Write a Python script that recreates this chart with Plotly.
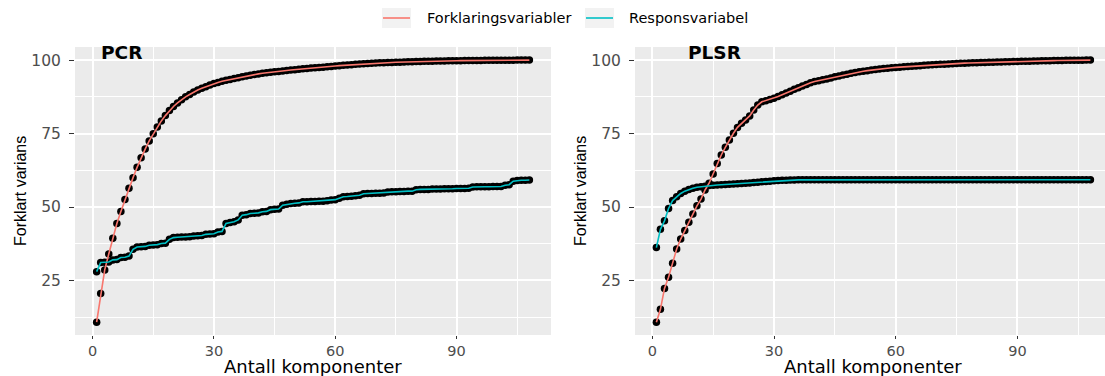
import plotly.graph_objects as go

# Antall komponenter (1..108)
components = list(range(1, 109))

# PCR: kumulativ forklart varians (%)
pcr_forklaring = [
    10.8, 20.6, 28.6, 34.0, 39.4, 44.4, 48.5, 52.6, 56.4, 60.0,
    63.5, 66.8, 69.7, 72.5, 74.9, 77.2, 79.3, 81.1, 82.8, 84.2,
    85.4, 86.5, 87.5, 88.3, 89.1, 89.8, 90.4, 90.95, 91.5, 92.0,
    92.4, 92.8, 93.1, 93.4, 93.7, 94.0, 94.3, 94.6, 94.85, 95.1,
    95.3, 95.5, 95.7, 95.85, 96.0, 96.15, 96.3, 96.45, 96.6, 96.75,
    96.9, 97.05, 97.15, 97.3, 97.4, 97.5, 97.6, 97.7, 97.85, 98.0,
    98.1, 98.2, 98.3, 98.45, 98.55, 98.65, 98.75, 98.85, 98.9, 99.0,
    99.05, 99.1, 99.15, 99.2, 99.25, 99.3, 99.35, 99.4, 99.45, 99.5,
    99.53, 99.56, 99.6, 99.63, 99.66, 99.69, 99.72, 99.74, 99.76, 99.78,
    99.8, 99.82, 99.84, 99.86, 99.88, 99.89, 99.9, 99.92, 99.93, 99.94,
    99.95, 99.96, 99.97, 99.98, 99.99, 99.99, 100.0, 100.0,
]
pcr_respons = [
    28.0, 31.1, 31.2, 31.3, 32.0, 32.1, 32.8, 32.9, 33.3, 35.6,
    36.4, 36.5, 36.6, 37.0, 37.1, 37.2, 37.6, 37.7, 39.0, 39.6,
    39.7, 39.8, 39.8, 39.9, 40.1, 40.2, 40.3, 40.7, 40.8, 40.9,
    41.5, 41.7, 44.4, 44.7, 45.0, 45.6, 47.2, 47.4, 47.8, 47.9,
    48.0, 48.4, 48.5, 49.1, 49.2, 49.3, 50.6, 50.9, 51.2, 51.3,
    51.4, 51.8, 51.8, 51.9, 51.9, 52.0, 52.0, 52.1, 52.4, 52.5,
    53.0, 53.5, 53.6, 53.7, 53.8, 54.0, 54.5, 54.6, 54.6, 54.7,
    54.7, 54.8, 55.1, 55.2, 55.2, 55.3, 55.3, 55.4, 55.4, 55.9,
    56.0, 56.0, 56.0, 56.1, 56.1, 56.1, 56.2, 56.2, 56.2, 56.3,
    56.3, 56.3, 56.4, 56.8, 56.9, 56.9, 56.9, 56.9, 57.0, 57.0,
    57.0, 57.4, 57.6, 58.8, 59.0, 59.1, 59.1, 59.2,
]

# PLSR: kumulativ forklart varians (%)
plsr_forklaring = [
    10.8, 15.2, 22.3, 26.1, 30.9, 35.7, 39.1, 42.0, 44.8, 47.6,
    50.4, 52.7, 55.8, 58.1, 61.2, 64.8, 67.7, 70.3, 72.8, 75.1,
    77.1, 78.5, 79.6, 81.0, 83.0, 84.7, 85.8, 86.2, 86.6, 87.0,
    87.6, 88.2, 88.8, 89.4, 90.1, 90.6, 91.2, 91.7, 92.3, 92.7,
    93.0, 93.3, 93.6, 93.9, 94.3, 94.6, 94.9, 95.2, 95.5, 95.8,
    96.0, 96.2, 96.4, 96.6, 96.8, 96.95, 97.1, 97.25, 97.4, 97.5,
    97.6, 97.7, 97.8, 97.9, 98.0, 98.1, 98.2, 98.3, 98.38, 98.46,
    98.54, 98.62, 98.7, 98.78, 98.85, 98.9, 98.95, 99.0, 99.05, 99.1,
    99.15, 99.2, 99.25, 99.3, 99.34, 99.38, 99.42, 99.46, 99.5, 99.54,
    99.57, 99.6, 99.64, 99.67, 99.7, 99.73, 99.76, 99.79, 99.82, 99.85,
    99.87, 99.9, 99.92, 99.94, 99.96, 99.98, 99.99, 100.0,
]
plsr_respons = [
    36.2, 42.4, 45.3, 49.5, 52.2, 53.5, 54.6, 55.4, 56.0, 56.4,
    56.7, 56.9, 57.1, 57.3, 57.4, 57.5, 57.6, 57.7, 57.75, 57.8,
    57.9, 58.0, 58.1, 58.2, 58.3, 58.45, 58.6, 58.7, 58.8, 58.9,
    59.0, 59.1, 59.15, 59.2, 59.2, 59.25, 59.25, 59.25, 59.3, 59.3,
    59.3, 59.3, 59.3, 59.3, 59.3, 59.3, 59.3, 59.3, 59.3, 59.3,
    59.3, 59.3, 59.3, 59.3, 59.3, 59.3, 59.3, 59.3, 59.3, 59.3,
    59.3, 59.3, 59.3, 59.3, 59.3, 59.3, 59.3, 59.3, 59.3, 59.3,
    59.3, 59.3, 59.3, 59.3, 59.3, 59.3, 59.3, 59.3, 59.3, 59.3,
    59.3, 59.3, 59.3, 59.3, 59.3, 59.3, 59.3, 59.3, 59.3, 59.3,
    59.3, 59.3, 59.3, 59.3, 59.3, 59.3, 59.3, 59.3, 59.3, 59.3,
    59.3, 59.3, 59.3, 59.3, 59.3, 59.3, 59.3, 59.3,
]

x_ticks = [0, 30, 60, 90]
x_minor = [15, 45, 75, 105]
y_ticks = [25, 50, 75, 100]
y_minor = [12.5, 37.5, 62.5, 87.5]

series_names = ["Forklaringsvariabler", "Responsvariabel"]
series_colors = ["#F8766D", "#00BFC4"]
panel_titles = ["PCR", "PLSR"]
x_title = "Antall komponenter"
y_title = "Forklart varians"

W, H = 1105, 376
Y_TICK_FONT = dict(family="DejaVu Sans", size=15.5, color="#4D4D4D")
X_TICK_FONT = dict(family="DejaVu Sans", size=14.5, color="#4D4D4D")

fig = go.Figure()

panels = [
    ("x", "y", pcr_forklaring, pcr_respons),
    ("x2", "y2", plsr_forklaring, plsr_respons),
]
for xa, ya, forkl, resp in panels:
    for values in (forkl, resp):
        fig.add_trace(go.Scatter(
            x=components, y=values, mode="markers", xaxis=xa, yaxis=ya,
            marker=dict(color="black", size=7.5, line=dict(width=0)),
            showlegend=False, hoverinfo="skip",
        ))
    for values, name, color in zip((forkl, resp), series_names, series_colors):
        fig.add_trace(go.Scatter(
            x=components, y=values, mode="lines", xaxis=xa, yaxis=ya,
            line=dict(color=color, width=1.6), name=name, showlegend=False,
        ))


def x_axis(domain, rng):
    return dict(
        domain=domain, range=rng, tickmode="array", tickvals=x_ticks,
        showgrid=True, gridcolor="white", gridwidth=1.6,
        zeroline=False, showline=False,
        ticks="outside", ticklen=3, tickwidth=1.2, tickcolor="#333333",
        tickfont=X_TICK_FONT,
        minor=dict(tickvals=x_minor, showgrid=True, gridcolor="white",
                   gridwidth=0.9, ticks=""),
        fixedrange=True,
    )


def y_axis(domain, anchor):
    return dict(
        domain=domain, range=[6.45, 104.45], anchor=anchor,
        tickmode="array", tickvals=y_ticks,
        showgrid=True, gridcolor="white", gridwidth=1.6,
        zeroline=False, showline=False,
        ticks="outside", ticklen=5, tickwidth=1.2, tickcolor="#333333",
        tickfont=Y_TICK_FONT, ticklabelstandoff=5,
        minor=dict(tickvals=y_minor, showgrid=True, gridcolor="white",
                   gridwidth=0.9, ticks=""),
        fixedrange=True,
    )


y_dom = [41 / H, 329 / H]
fig.update_layout(
    width=W, height=H,
    margin=dict(l=0, r=0, t=0, b=0),
    paper_bgcolor="white", plot_bgcolor="#EBEBEB",
    showlegend=False,
    xaxis=dict(**x_axis([75 / W, 551 / W], [-4.35, 113.35]), anchor="y"),
    yaxis=y_axis(y_dom, "x"),
    xaxis2=dict(**x_axis([635 / W, 1.0], [-4.27, 111.6]), anchor="y2"),
    yaxis2=y_axis(y_dom, "x2"),
)

annotations = []
shapes = []

# Panel titles, axis titles
for title, tx, xc, yx in zip(panel_titles, [99, 686], [313, 873], [20, 580]):
    annotations.append(dict(
        text=f"<b>{title}</b>", x=tx / W, y=1 - 52.5 / H, xref="paper",
        yref="paper", xanchor="left", yanchor="middle", showarrow=False,
        font=dict(family="DejaVu Sans", size=18.5, color="black"),
    ))
    annotations.append(dict(
        text=x_title, x=xc / W, y=1 - 366 / H, xref="paper", yref="paper",
        xanchor="center", yanchor="middle", showarrow=False,
        font=dict(family="DejaVu Sans", size=18, color="black"),
    ))
    annotations.append(dict(
        text=y_title, x=yx / W, y=1 - 191 / H, xref="paper", yref="paper",
        xanchor="center", yanchor="middle", showarrow=False, textangle=-90,
        font=dict(family="Liberation Sans", size=16, color="black"),
    ))

# Legend: key boxes with line samples and labels
legend_items = [(382, 411, 425), (585, 614, 627)]
for (k0, k1, tx), name, color in zip(legend_items, series_names, series_colors):
    shapes.append(dict(type="rect", xref="paper", yref="paper",
                       x0=k0 / W, x1=k1 / W, y0=1 - 28 / H, y1=1 - 8 / H,
                       fillcolor="#F2F2F2", line=dict(width=0), layer="below"))
    shapes.append(dict(type="line", xref="paper", yref="paper",
                       x0=(k0 + 1) / W, x1=(k1 - 1) / W,
                       y0=1 - 18 / H, y1=1 - 18 / H,
                       line=dict(color=color, width=1.6)))
    annotations.append(dict(
        text=name, x=tx / W, y=1 - 18 / H, xref="paper", yref="paper",
        xanchor="left", yanchor="middle", showarrow=False,
        font=dict(family="DejaVu Sans", size=14.5, color="black"),
    ))

fig.update_layout(annotations=annotations, shapes=shapes)
fig.write_html("out.html")
